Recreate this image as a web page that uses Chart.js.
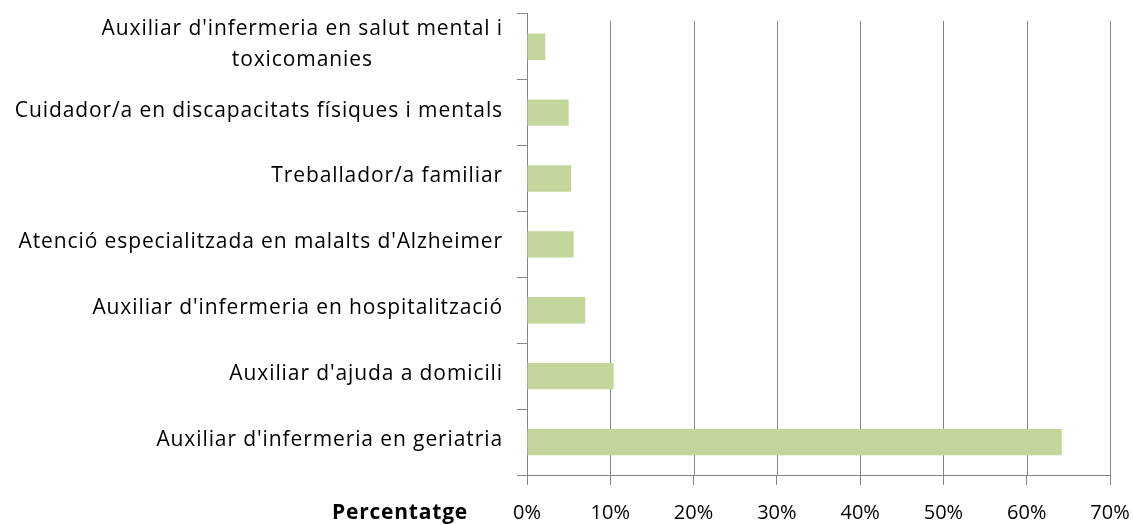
<!DOCTYPE html>
<html>
<head>
<meta charset="utf-8">
<script src="https://cdn.jsdelivr.net/npm/chart.js@4/dist/chart.umd.min.js"></script>
<style>
  html, body { margin: 0; padding: 0; background: #fff; }
  #wrap { width: 1133px; height: 525px; }
</style>
</head>
<body>
<div id="wrap"><canvas id="myChart"></canvas></div>
<script>
// Dades del gràfic
const categories = [
    ["Auxiliar d'infermeria en salut mental i", 'toxicomanies'],
    'Cuidador/a en discapacitats físiques i mentals',
    'Treballador/a familiar',
    "Atenció especialitzada en malalts d'Alzheimer",
    "Auxiliar d'infermeria en hospitalització",
    "Auxiliar d'ajuda a domicili",
    "Auxiliar d'infermeria en geriatria"
];
const percentatges = [2.2, 5.0, 5.3, 5.6, 7.0, 10.4, 64.2];
const xTicks = [0, 10, 20, 30, 40, 50, 60, 70];
const axisTitle = 'Percentatge';

const FONT = "'Open Sans', sans-serif";
const gridColor = '#868686';

// Línies de la graella verticals (comencen una mica per sota del límit superior)
const gridPlugin = {
    id: 'vGrid',
    beforeDatasetsDraw(chart) {
        const ctx = chart.ctx;
        const xScale = chart.scales.x;
        const { top, bottom } = chart.chartArea;
        ctx.save();
        ctx.strokeStyle = gridColor;
        ctx.lineWidth = 1;
        xTicks.forEach(v => {
            const x = Math.round(xScale.getPixelForValue(v)) + 0.5;
            ctx.beginPath();
            ctx.moveTo(x, top + 7);
            ctx.lineTo(x, bottom);
            ctx.stroke();
        });
        ctx.restore();
    }
};

// Etiquetes de l'eix Y dibuixades a mà (línies centrades entre elles)
const yLabelsPlugin = {
    id: 'yLabels',
    afterDraw(chart) {
        const ctx = chart.ctx;
        const yScale = chart.scales.y;
        const right = chart.chartArea.left - 24;
        ctx.save();
        ctx.font = '21px ' + FONT;
        ctx.letterSpacing = '0.9px';
        ctx.fillStyle = '#000';
        ctx.textBaseline = 'middle';
        ctx.textAlign = 'center';
        categories.forEach((label, i) => {
            const lines = Array.isArray(label) ? label : [label];
            const w = Math.max(...lines.map(l => ctx.measureText(l).width));
            const cx = right - w / 2;
            const yc = yScale.getPixelForValue(i);
            const lh = 31;
            lines.forEach((l, j) => {
                ctx.fillText(l, cx, yc + (j - (lines.length - 1) / 2) * lh - 2);
            });
        });
        // títol de l'eix X a l'esquerra
        ctx.font = 'bold 21px ' + FONT;
        ctx.letterSpacing = '0.8px';
        ctx.fillText(axisTitle, 400, 513);
        ctx.restore();
    }
};

const ctx = document.getElementById('myChart').getContext('2d');
const myChart = new Chart(ctx, {
    type: 'bar',
    data: {
        labels: categories,
        datasets: [{
            data: percentatges,
            backgroundColor: '#c3d69b',
            borderWidth: 0,
            barPercentage: 0.4,
            categoryPercentage: 1.0
        }]
    },
    options: {
        indexAxis: 'y',
        responsive: true,
        maintainAspectRatio: false,
        animation: false,
        layout: { padding: { top: 10, right: 23, left: 0, bottom: 0 } },
        plugins: {
            legend: { display: false },
            tooltip: { enabled: false }
        },
        scales: {
            x: {
                min: 0,
                max: 70,
                afterBuildTicks: (scale) => { scale.ticks = xTicks.map(v => ({ value: v })); },
                afterFit: (scale) => {
                    scale.height = 50;
                    scale.paddingLeft = 0;
                    scale.paddingRight = 0;
                },
                grid: {
                    color: gridColor,
                    lineWidth: 1,
                    drawOnChartArea: false,
                    drawTicks: true,
                    tickLength: 10
                },
                border: { color: gridColor },
                ticks: {
                    color: '#000',
                    font: { family: FONT, size: 20 },
                    padding: 16,
                    maxRotation: 0,
                    callback: (v) => v + '%'
                }
            },
            y: {
                afterFit: (scale) => { scale.width = 527; },
                grid: {
                    display: true,
                    drawOnChartArea: false,
                    color: gridColor,
                    tickLength: 10,
                    offset: true
                },
                border: { color: gridColor },
                ticks: {
                    color: 'rgba(0,0,0,0)',
                    font: { family: FONT, size: 18 }
                }
            }
        }
    },
    plugins: [gridPlugin, yLabelsPlugin]
});
</script>
</body>
</html>
